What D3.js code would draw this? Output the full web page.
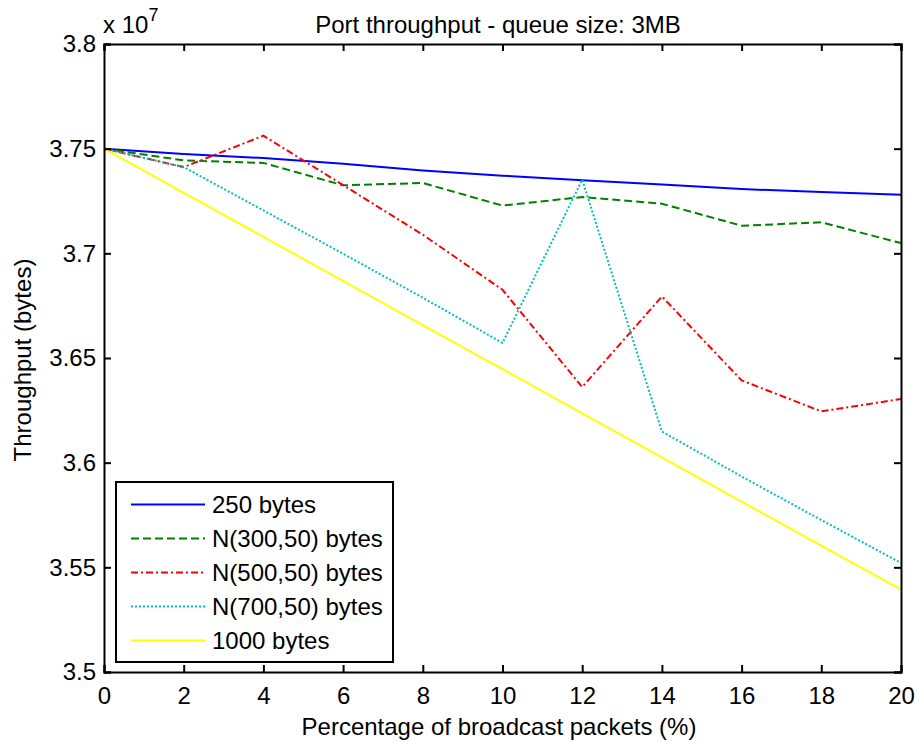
<!DOCTYPE html>
<html>
<head>
<meta charset="utf-8">
<script src="https://cdn.jsdelivr.net/npm/d3@7"></script>
<style>
  body { margin: 0; background: #fff; }
  text { font-family: "Liberation Sans", Arial, sans-serif; fill: #000; }
</style>
</head>
<body>
<script>
// data (throughput in units of 1e7 bytes)
const percent = [0, 2, 4, 6, 8, 10, 12, 14, 16, 18, 20]
const bytes250 = [3.75, 3.7475, 3.7455, 3.7428, 3.7396, 3.7371, 3.7349, 3.7329, 3.7307, 3.7293, 3.728]
const n300 = [3.75, 3.7444, 3.7432, 3.7325, 3.7336, 3.7228, 3.7269, 3.7237, 3.7132, 3.7148, 3.7049]
const n500 = [3.75, 3.7412, 3.7562, 3.7326, 3.7089, 3.6826, 3.6361, 3.6794, 3.6393, 3.6245, 3.6304]
const n700 = [3.75, 3.7412, 3.7205, 3.6998, 3.6788, 3.6572, 3.7352, 3.6149, 3.5934, 3.5726, 3.5521]
const bytes1000 = [3.75, 3.7289, 3.7079, 3.6868, 3.6657, 3.6447, 3.6236, 3.6025, 3.5814, 3.5604, 3.5393]
const seriesNames = ['250 bytes', 'N(300,50) bytes', 'N(500,50) bytes', 'N(700,50) bytes', '1000 bytes']
const xTicks = [0, 2, 4, 6, 8, 10, 12, 14, 16, 18, 20]
const yTicks = [3.5, 3.55, 3.6, 3.65, 3.7, 3.75, 3.8]

const series = [
    { name: seriesNames[0], values: bytes250, color: '#0000ff', dash: null },
    { name: seriesNames[1], values: n300, color: '#008000', dash: '8,4' },
    { name: seriesNames[2], values: n500, color: '#ff0000', dash: '7,3,2,3' },
    { name: seriesNames[3], values: n700, color: '#00bfbf', dash: '2,2' },
    { name: seriesNames[4], values: bytes1000, color: '#ffff00', dash: null }
]

const W = 917, H = 742
const margin = { top: 44, right: 16, bottom: 70, left: 104 }
const width = W - margin.left - margin.right
const height = H - margin.top - margin.bottom

const svg = d3.select('body').append('svg')
    .attr('width', W)
    .attr('height', H)

const xScale = d3.scaleLinear().domain([0, 20]).range([margin.left, margin.left + width])
const yScale = d3.scaleLinear().domain([3.5, 3.8]).range([margin.top + height, margin.top])

// lines
const line = d3.line()
    .x((d, i) => xScale(percent[i]))
    .y(d => yScale(d))

series.forEach(s => {
    svg.append('path')
        .datum(s.values)
        .attr('d', line)
        .attr('fill', 'none')
        .attr('stroke', s.color)
        .attr('stroke-width', 2)
        .attr('stroke-dasharray', s.dash)
})

// axes, MATLAB style: ticks inside, box on
const fontSize = '24px'

svg.append('g')
    .attr('transform', 'translate(0,' + (margin.top + height) + ')')
    .call(d3.axisBottom(xScale).tickValues(xTicks).tickSize(-7).tickPadding(15).tickFormat(d3.format('d')))
svg.append('g')
    .attr('transform', 'translate(0,' + margin.top + ')')
    .call(d3.axisTop(xScale).tickValues(xTicks).tickSize(-7).tickFormat(''))
svg.append('g')
    .attr('transform', 'translate(' + margin.left + ',0)')
    .call(d3.axisLeft(yScale).tickValues(yTicks).tickSize(-7).tickPadding(8).tickFormat(d => d3.format('')(+d.toFixed(2))))
svg.append('g')
    .attr('transform', 'translate(' + (margin.left + width) + ',0)')
    .call(d3.axisRight(yScale).tickValues(yTicks).tickSize(-7).tickFormat(''))

svg.selectAll('.domain').attr('stroke', '#000').attr('stroke-width', 2)
svg.selectAll('.tick line').attr('stroke', '#000').attr('stroke-width', 2)
svg.selectAll('.tick text')
    .style('font-size', fontSize)
    .style('font-family', '"Liberation Sans", Arial, sans-serif')
    .attr('fill', '#000')

// title and labels
svg.append('text')
    .attr('x', 498)
    .attr('y', 33)
    .attr('text-anchor', 'middle')
    .style('font-size', fontSize)
    .text('Port throughput - queue size: 3MB')

svg.append('text')
    .attr('x', 499)
    .attr('y', 735)
    .attr('text-anchor', 'middle')
    .style('font-size', fontSize)
    .text('Percentage of broadcast packets (%)')

svg.append('text')
    .attr('text-anchor', 'middle')
    .attr('transform', 'translate(31,360)rotate(-90)')
    .style('font-size', fontSize)
    .text('Throughput (bytes)')

// exponent label
const expo = svg.append('text')
    .attr('x', 103)
    .attr('y', 33)
    .style('font-size', fontSize)
expo.append('tspan').text('x 10')
expo.append('tspan')
    .attr('dx', 0)
    .attr('dy', -12)
    .style('font-size', '18px')
    .text('7')

// legend
svg.append('rect')
    .attr('x', 116)
    .attr('y', 482)
    .attr('width', 277)
    .attr('height', 180)
    .attr('fill', '#fff')
    .attr('stroke', '#000')
    .attr('stroke-width', 2)

series.forEach((s, i) => {
    const y = 504.5 + i * 34
    svg.append('line')
        .attr('x1', 131)
        .attr('x2', 205)
        .attr('y1', y)
        .attr('y2', y)
        .attr('stroke', s.color)
        .attr('stroke-width', 2)
        .attr('stroke-dasharray', s.dash)
    svg.append('text')
        .attr('x', 212)
        .attr('y', y)
        .attr('dy', '0.36em')
        .style('font-size', fontSize)
        .text(s.name)
})
</script>
</body>
</html>
